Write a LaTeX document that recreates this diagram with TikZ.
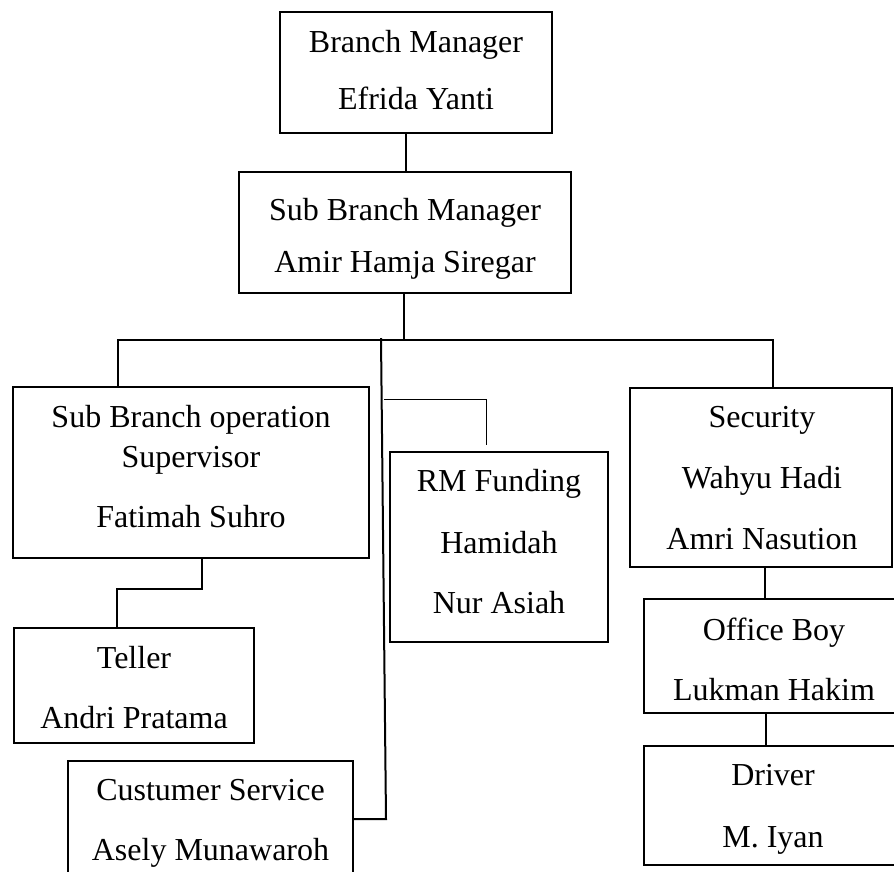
\documentclass[tikz,border=0pt]{standalone}
\usepackage{fontspec}
\setmainfont{Liberation Serif}
\begin{document}
\begin{tikzpicture}[x=1pt,y=-1pt,
  orgbox/.style={draw, line width=2pt, inner sep=0pt, minimum width=#1},
  txt/.style={anchor=base, inner sep=0pt, font=\fontsize{32}{36}\selectfont},
  conn/.style={line width=2pt},
  thinconn/.style={line width=1pt}]
\useasboundingbox (0,0) rectangle (894,871);
\clip (0,0) rectangle (894,871);
% boxes
\node[orgbox=272pt, minimum height=121pt] (bm) at (416,72.5) {};
\node[orgbox=332pt, minimum height=121pt] (sbm) at (405,232.5) {};
\node[orgbox=356pt, minimum height=171pt] (sbos) at (191,472.5) {};
\node[orgbox=240pt, minimum height=115pt] (teller) at (134,685.5) {};
\node[orgbox=285pt, minimum height=117pt] (cs) at (210.5,819.5) {};
\node[orgbox=218pt, minimum height=190pt] (rm) at (499,547) {};
\node[orgbox=262pt, minimum height=179pt] (sec) at (761,477.5) {};
\node[orgbox=260pt, minimum height=114pt] (ob) at (774,656) {};
\node[orgbox=260pt, minimum height=119pt] (drv) at (774,805.5) {};
% texts
\node[txt] (bm1) at (416,52) {Branch Manager};
\node[txt] (bm2) at (416,109) {Efrida Yanti};
\node[txt] (sbm1) at (405,220) {Sub Branch Manager};
\node[txt] (sbm2) at (405,272) {Amir Hamja Siregar};
\node[txt] (sbos1) at (191,427) {Sub Branch operation};
\node[txt] (sbos2) at (191,467) {Supervisor};
\node[txt] (sbos3) at (191,527) {Fatimah Suhro};
\node[txt] (tel1) at (134,668) {Teller};
\node[txt] (tel2) at (134,728) {Andri Pratama};
\node[txt] (cs1) at (210.5,800) {Custumer Service};
\node[txt] (cs2) at (210.5,860) {Asely Munawaroh};
\node[txt] (rm1) at (499,491) {RM Funding};
\node[txt] (rm2) at (499,553) {Hamidah};
\node[txt] (rm3) at (499,613) {Nur Asiah};
\node[txt] (sec1) at (762,427) {Security};
\node[txt] (sec2) at (762,488) {Wahyu Hadi};
\node[txt] (sec3) at (762,549) {Amri Nasution};
\node[txt] (ob1) at (774,640) {Office Boy};
\node[txt] (ob2) at (774,700) {Lukman Hakim};
\node[txt] (drv1) at (773,785) {Driver};
\node[txt] (drv2) at (773,847) {M. Iyan};
% connector coordinates
\coordinate (c1) at (406,0);
\coordinate (bus) at (404,340);
\coordinate (busL) at (118,340);
\coordinate (busR) at (773,340);
\coordinate (csj) at (386,819);
\coordinate (cstop) at (381,338);
\coordinate (rmA) at (384,399);
\coordinate (rmB) at (486,445);
\coordinate (tj) at (202,0);
\coordinate (tk) at (117,589);
\coordinate (sx) at (765,0);
\coordinate (ox) at (766,0);
% connectors
\draw[conn] (bm.south -| c1) -- (sbm.north -| c1);
\draw[conn] (sbm.south -| bus) -- (bus);
\draw[conn] (sbos.north -| busL) -- (busL) -- (busR) -- (sec.north -| busR);
\draw[conn] (cs.east |- csj) -- (csj) -- (cstop);
\draw[thinconn] (rmA) -| (rmB);
\draw[conn] (sbos.south -| tj) |- (tk) -- (teller.north -| tk);
\draw[conn] (sec.south -| sx) -- (ob.north -| sx);
\draw[conn] (ob.south -| ox) -- (drv.north -| ox);
\end{tikzpicture}
\end{document}
